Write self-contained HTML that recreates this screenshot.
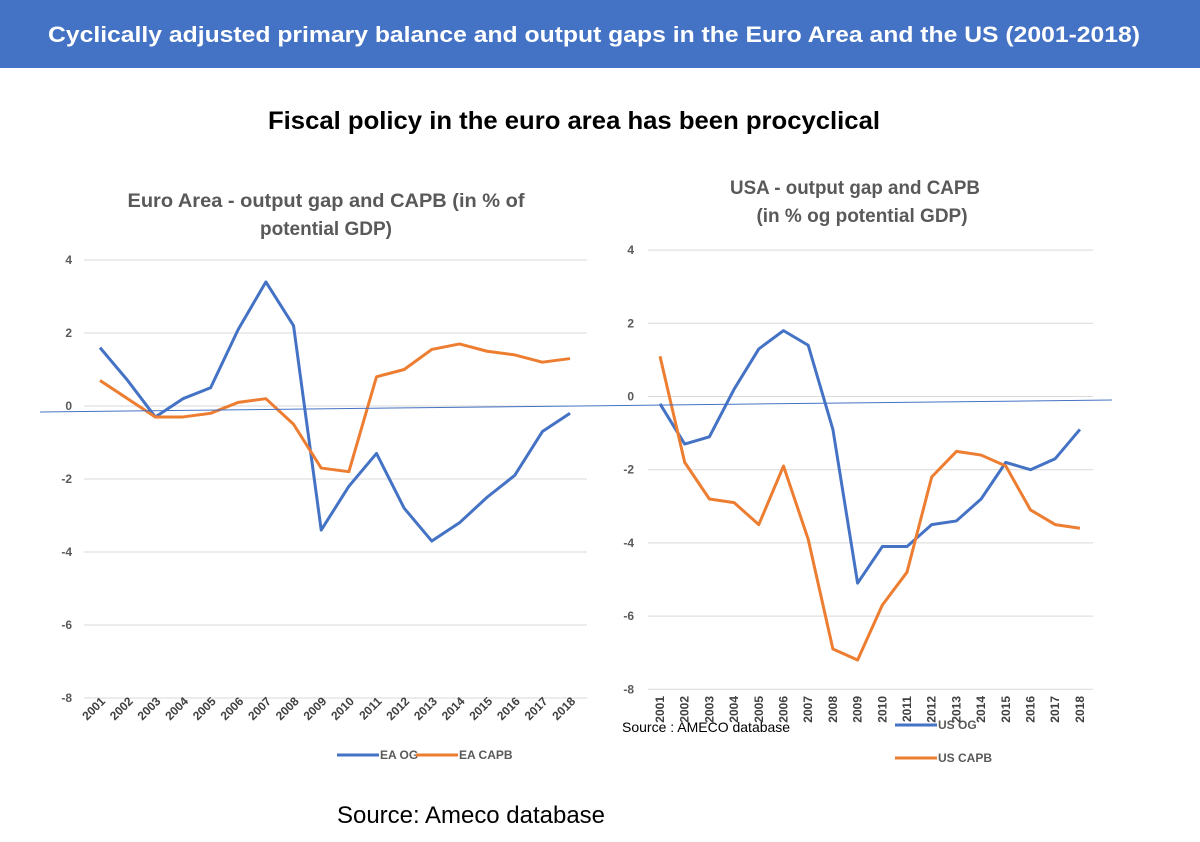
<!DOCTYPE html>
<html><head><meta charset="utf-8"><style>
body{margin:0;width:1200px;height:842px;background:#fff;overflow:hidden;font-family:"Liberation Sans",sans-serif;}
</style></head><body>
<svg width="1200" height="842" style="position:absolute;left:0;top:0">
<rect x="0" y="0" width="1200" height="68" fill="#4472C4"/>
<text x="594" y="42" text-anchor="middle" fill="#fff" font-size="22" font-weight="bold" textLength="1092" lengthAdjust="spacingAndGlyphs">Cyclically adjusted primary balance and output gaps in the Euro Area and the US (2001-2018)</text>
<text x="574" y="129" text-anchor="middle" fill="#000" font-size="25" font-weight="bold" textLength="612" lengthAdjust="spacingAndGlyphs">Fiscal policy in the euro area has been procyclical</text>
<text x="326" y="207" text-anchor="middle" fill="#595959" font-size="19" font-weight="bold" textLength="397" lengthAdjust="spacingAndGlyphs">Euro Area - output gap and CAPB (in % of</text>
<text x="326" y="235" text-anchor="middle" fill="#595959" font-size="19" font-weight="bold">potential GDP)</text>
<text x="855" y="194" text-anchor="middle" fill="#595959" font-size="19" font-weight="bold" textLength="250" lengthAdjust="spacingAndGlyphs">USA - output gap and CAPB</text>
<text x="862" y="222" text-anchor="middle" fill="#595959" font-size="19" font-weight="bold">(in % og potential GDP)</text>
<g id="ea"></g><g id="us"></g>
<line x1="40" y1="412" x2="1112" y2="400" stroke="#4472C4" stroke-width="1"/>
<text x="471" y="823" text-anchor="middle" fill="#000" font-size="24" textLength="268" lengthAdjust="spacingAndGlyphs">Source: Ameco database</text>
<text x="622" y="732" fill="#000" font-size="14">Source : AMECO database</text>
</svg>
<script>
const years=['2001','2002','2003','2004','2005','2006','2007','2008','2009','2010','2011','2012','2013','2014','2015','2016','2017','2018'];
const yTicks=[4,2,0,-2,-4,-6,-8];
const eaOG=[1.6,0.7,-0.3,0.2,0.5,2.1,3.4,2.2,-3.4,-2.2,-1.3,-2.8,-3.7,-3.2,-2.5,-1.9,-0.7,-0.2];
const eaCAPB=[0.7,0.2,-0.3,-0.3,-0.2,0.1,0.2,-0.5,-1.7,-1.8,0.8,1.0,1.55,1.7,1.5,1.4,1.2,1.3];
const usOG=[-0.2,-1.3,-1.1,0.2,1.3,1.8,1.4,-0.9,-5.1,-4.1,-4.1,-3.5,-3.4,-2.8,-1.8,-2.0,-1.7,-0.9];
const usCAPB=[1.1,-1.8,-2.8,-2.9,-3.5,-1.9,-3.9,-6.9,-7.2,-5.7,-4.8,-2.2,-1.5,-1.6,-1.9,-3.1,-3.5,-3.6];
const NS='http://www.w3.org/2000/svg';
function mk(p,t,a){const e=document.createElementNS(NS,t);for(const k in a)e.setAttribute(k,a[k]);p.appendChild(e);return e;}
function chart(g,cfg){
  const y=v=>cfg.y0-v*cfg.unit;
  const x=i=>cfg.x0+i*cfg.dx;
  yTicks.forEach(t=>{
    const l=mk(g,'line',{x1:cfg.gx1,x2:cfg.gx2,y1:y(t),y2:y(t),stroke:'#d9d9d9','stroke-width':1});
    
    
    const tx=mk(g,'text',{x:cfg.lx,y:y(t)+4,'text-anchor':'end','font-size':12,fill:'#595959','font-weight':'bold'});
    tx.textContent=t;
    
    
  });
  years.forEach((yr,i)=>{
    const tx=mk(g,'text',{'font-size':12,fill:'#404040','font-weight':'bold','text-anchor':'end',
      transform:`translate(${x(i)+cfg.tox},${cfg.ty}) rotate(${cfg.rot})`});
    tx.textContent=yr;
    
    
  });
  cfg.series.forEach(s=>{
    const p=mk(g,'polyline',{points:s.data.map((v,i)=>x(i)+','+y(v)).join(' '),fill:'none',stroke:s.color,'stroke-width':3,'stroke-linejoin':'round'});
    
    
    const ll=mk(g,'line',{x1:s.lx,x2:s.lx+42,y1:s.ly,y2:s.ly,stroke:s.color,'stroke-width':3});
    
    
    const lt=mk(g,'text',{x:s.lx+43,y:s.ly+4,'font-size':12,fill:'#595959','font-weight':'bold'});
    lt.textContent=s.label;
    
    
  });
}
chart(document.getElementById('ea'),{y0:406,unit:36.5,x0:100,dx:27.65,gx1:84,gx2:587,lx:72,ty:702,tox:6,rot:-45,
  series:[{data:eaOG,color:'#4472C4',name:'ea-og-line',label:'EA OG',lx:337,ly:755},
          {data:eaCAPB,color:'#ED7D31',name:'ea-capb-line',label:'EA CAPB',lx:416,ly:755}]});
chart(document.getElementById('us'),{y0:396.5,unit:36.6,x0:660,dx:24.7,gx1:648,gx2:1093,lx:634,ty:696,tox:4,rot:-90,
  series:[{data:usOG,color:'#4472C4',name:'us-og-line',label:'US OG',lx:895,ly:725},
          {data:usCAPB,color:'#ED7D31',name:'us-capb-line',label:'US CAPB',lx:895,ly:758}]});
</script>
</body></html>
